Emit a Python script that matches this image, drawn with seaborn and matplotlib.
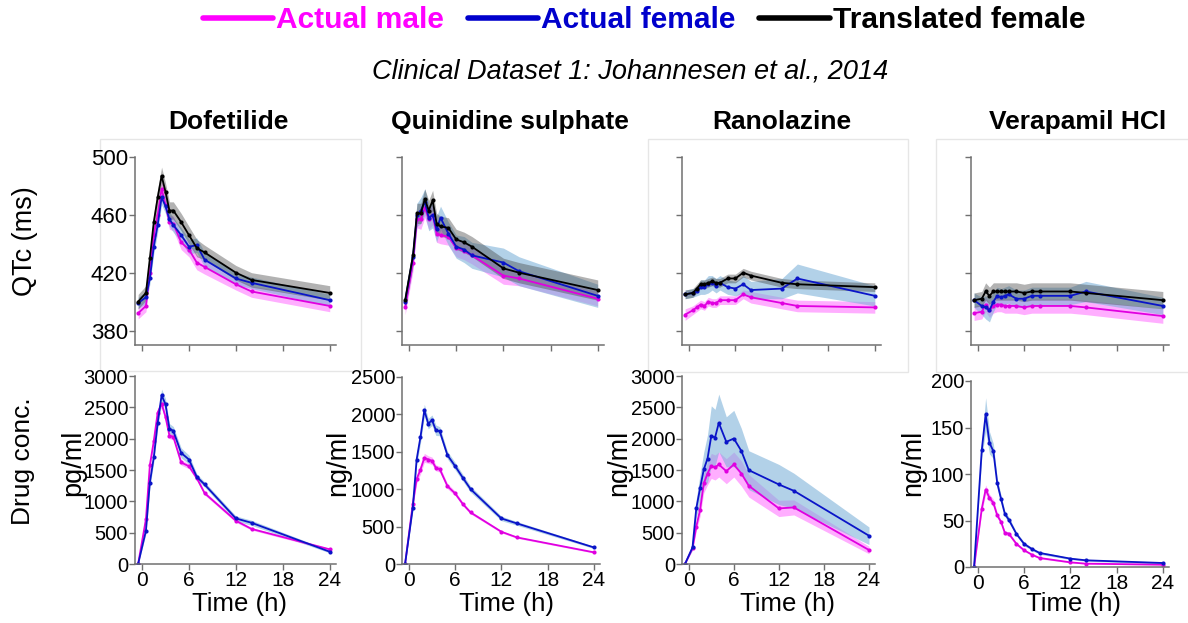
import pandas as pd
import seaborn as sns
import matplotlib.pyplot as plt
from matplotlib.lines import Line2D
from matplotlib.patches import Rectangle

sns.set_style("ticks")
plt.rcParams["font.family"] = ["Liberation Sans", "DejaVu Sans"]
plt.rcParams["text.color"] = "black"

# sampling times (h), pre-dose plotted at -0.5
times = [-0.5, 0.5, 1, 1.5, 2, 2.5, 3, 3.5, 4, 5, 6, 7, 8, 12, 14, 24]

drugs = ["Dofetilide", "Quinidine sulphate", "Ranolazine", "Verapamil HCl"]
conc_units = ["pg/ml", "ng/ml", "ng/ml", "ng/ml"]
series_names = ["Actual male", "Actual female", "Translated female"]

# QTc (ms): mean and band half-width, per drug
qtc_male = [
    [392, 397, 420, 446, 460, 478, 467, 455, 454, 441, 436, 427, 424, 412, 407, 397],
    [396, 427, 457, 457, 465, 457, 460, 447, 446, 445, 437, 435, 432, 418, 416, 402],
    [391, 394, 396, 398, 397, 400, 399, 399, 401, 401, 401, 405, 403, 399, 397, 396],
    [392, 393, 398, 394, 397, 398, 398, 397, 397, 397, 396, 397, 397, 397, 396, 390],
]
qtc_female = [
    [399, 403, 416, 438, 453, 472, 466, 457, 453, 446, 438, 439, 429, 416, 413, 401],
    [400, 431, 460, 463, 469, 458, 460, 450, 458, 447, 438, 436, 432, 427, 421, 404],
    [405, 406, 407, 410, 410, 412, 413, 411, 413, 410, 409, 412, 408, 409, 416, 404],
    [401, 397, 396, 394, 400, 404, 403, 404, 405, 402, 402, 404, 404, 404, 407, 397],
]
qtc_trans = [
    [400, 406, 430, 455, 472, 487, 476, 463, 463, 455, 446, 437, 434, 420, 415, 406],
    [401, 432, 461, 461, 471, 463, 470, 454, 452, 451, 443, 441, 438, 423, 420, 408],
    [405, 406, 409, 412, 412, 413, 414, 413, 413, 416, 416, 420, 418, 413, 412, 410],
    [401, 402, 407, 404, 407, 407, 407, 407, 407, 407, 406, 407, 407, 407, 406, 401],
]
qtc_male_err = [
    [4, 4, 4, 5, 5, 5, 5, 5, 5, 5, 5, 5, 5, 4, 4, 4],
    [5, 6, 6, 7, 7, 7, 7, 6, 6, 6, 6, 6, 6, 6, 5, 5],
    [4, 3, 3, 3, 3, 3, 3, 3, 3, 3, 3, 3, 4, 4, 4, 4],
    [5, 5, 5, 5, 5, 5, 5, 5, 5, 5, 5, 5, 5, 5, 5, 5],
]
qtc_female_err = [
    [4, 4, 4, 5, 5, 5, 5, 5, 5, 5, 5, 5, 5, 4, 4, 4],
    [6, 7, 8, 9, 9, 9, 9, 9, 8, 8, 8, 9, 9, 10, 10, 8],
    [3, 3, 3, 5, 5, 6, 5, 5, 5, 5, 5, 6, 6, 7, 10, 7],
    [5, 6, 8, 8, 7, 6, 6, 6, 6, 6, 6, 6, 6, 6, 7, 6],
]
qtc_trans_err = [
    [5, 5, 5, 6, 6, 6, 6, 6, 6, 6, 6, 6, 5, 5, 5, 5],
    [6, 6, 7, 7, 7, 7, 7, 7, 7, 7, 7, 7, 7, 7, 7, 7],
    [3, 3, 3, 3, 3, 3, 3, 3, 3, 3, 3, 3, 3, 3, 3, 3],
    [5, 5, 6, 6, 6, 6, 6, 6, 6, 6, 6, 6, 6, 6, 6, 6],
]

# drug concentration: mean and band half-width, per drug
conc_male = [
    [0, 717, 1577, 1960, 2416, 2560, 2347, 2050, 2030, 1620, 1560, 1370, 1130, 690, 560, 234],
    [0, 800, 1134, 1263, 1419, 1397, 1379, 1285, 1268, 1041, 943, 801, 689, 431, 356, 156],
    [0, 250, 595, 860, 1285, 1444, 1566, 1540, 1588, 1481, 1588, 1444, 1248, 887, 903, 223],
    [0, 62.8, 83.3, 74.3, 69, 55.6, 48.5, 36.6, 35.9, 24.8, 18, 13.3, 9.7, 5, 3.6, 2.5],
]
conc_female = [
    [0, 531, 1300, 1700, 2250, 2692, 2549, 2161, 2124, 1773, 1667, 1391, 1269, 727, 658, 196],
    [0, 752, 1397, 1699, 2055, 1877, 1922, 1788, 1775, 1455, 1308, 1152, 1001, 609, 543, 222],
    [0, 265, 887, 1205, 1508, 1683, 2044, 2018, 2251, 1949, 2002, 1805, 1497, 1269, 1168, 451],
    [0, 126, 164, 133.5, 124.6, 90.5, 73.2, 57, 51, 35.5, 24.8, 19.4, 15.1, 9, 7.2, 4.3],
]
conc_male_err = [
    [0, 40, 60, 60, 60, 60, 60, 50, 50, 40, 40, 35, 30, 25, 20, 15],
    [0, 40, 60, 60, 60, 50, 50, 40, 40, 35, 30, 25, 20, 15, 12, 10],
    [0, 30, 70, 100, 150, 180, 200, 200, 200, 200, 200, 200, 180, 130, 120, 60],
    [0, 4, 5, 4, 4, 3, 2, 2, 2, 1.5, 1, 1, 1, 0.5, 0.5, 0.5],
]
conc_female_err = [
    [0, 50, 70, 80, 90, 100, 90, 80, 70, 80, 70, 50, 40, 40, 40, 20],
    [0, 50, 70, 80, 80, 70, 70, 70, 60, 50, 50, 45, 40, 30, 25, 15],
    [0, 40, 150, 220, 280, 380, 480, 450, 460, 400, 450, 360, 310, 320, 280, 140],
    [0, 8, 18, 12, 8, 5, 4, 3, 3, 2, 2, 1.5, 1.5, 1, 1, 1],
]

qtc_ticks = [380, 420, 460, 500]
conc_ticks = [
    [0, 500, 1000, 1500, 2000, 2500, 3000],
    [0, 500, 1000, 1500, 2000, 2500],
    [0, 500, 1000, 1500, 2000, 2500, 3000],
    [0, 50, 100, 150, 200],
]
time_ticks = [0, 6, 12, 18, 24]

line_colors = ["#e000e0", "#0a14c8", "black"]
band_colors = ["#ff4dff", "#7fb3da", "#404040"]
band_alpha = [0.45, 0.6, 0.4]
text_colors = ["#ff00ff", "#0000cc", "black"]

W, H = 1188, 623
fig = plt.figure(figsize=(W / 100, H / 100), dpi=100)


def px_axes(x0, x1, y0, y1):
    return fig.add_axes([x0 / W, 1 - y1 / H, (x1 - x0) / W, (y1 - y0) / H])


# faint frames visible behind some of the top panels
for x0, x1, y0, y1 in [(100, 361, 139, 371), (648, 908, 139, 372), (936, 1190, 139, 372)]:
    fig.add_artist(Rectangle((x0 / W, 1 - y1 / H), (x1 - x0) / W, (y1 - y0) / H,
                             transform=fig.transFigure, fill=False,
                             ec="#e6e6e6", lw=1, zorder=0))

top_x = [(135, 336), (402, 604), (682, 881), (971, 1169)]
bot_x = [(135, 336), (402, 600), (682, 875), (971, 1169)]
bot_y = [(376, 564), (377, 564), (376, 564), (381, 567)]


def style_axis(ax):
    sns.despine(ax=ax)
    for s in ["left", "bottom"]:
        ax.spines[s].set_color("#707070")
        ax.spines[s].set_linewidth(1.1)
    ax.tick_params(colors="#707070", labelcolor="black", length=4, width=1, pad=1)
    ax.tick_params(axis="x", labelsize=15)
    ax.tick_params(axis="y", labelsize=14.5)
    ax.set_xlabel("")
    ax.set_ylabel("")


def draw(ax, means, errs, idx):
    for k in idx:
        lo = [m - e for m, e in zip(means[k], errs[k])]
        hi = [m + e for m, e in zip(means[k], errs[k])]
        ax.fill_between(times, lo, hi, color=band_colors[k], alpha=band_alpha[k], lw=0)
    for k in idx:
        df = pd.DataFrame({"time": times, "value": means[k]})
        sns.lineplot(data=df, x="time", y="value", ax=ax, color=line_colors[k],
                     lw=1.3, marker="o", markersize=3, markeredgewidth=0)


for i in range(4):
    # QTc row
    ax = px_axes(top_x[i][0], top_x[i][1], 157, 345)
    draw(ax, [qtc_male[i], qtc_female[i], qtc_trans[i]],
         [qtc_male_err[i], qtc_female_err[i], qtc_trans_err[i]], [0, 1, 2])
    ax.set_xlim(-0.9, 24.8)
    ax.set_ylim(370, 500)
    ax.set_yticks(qtc_ticks)
    ax.set_xticks(time_ticks)
    style_axis(ax)
    ax.tick_params(labelbottom=False, labelleft=(i == 0))
    ax.tick_params(axis="y", labelsize=16)

    # concentration row
    ax = px_axes(bot_x[i][0], bot_x[i][1], bot_y[i][0], bot_y[i][1])
    draw(ax, [conc_male[i], conc_female[i]], [conc_male_err[i], conc_female_err[i]], [0, 1])
    ax.set_xlim(-0.9, 24.8)
    ax.set_ylim(0, conc_ticks[i][-1])
    ax.set_yticks(conc_ticks[i])
    ax.set_xticks(time_ticks)
    style_axis(ax)

# titles and labels
title_x = [228, 510, 782, 1078]
for i in range(4):
    fig.text(title_x[i] / W, 1 - 122 / H, drugs[i], ha="center", va="center",
             fontsize=19, fontweight="bold")

time_x = [240, 507, 787, 1074]
for x in time_x:
    fig.text(x / W, 1 - 604 / H, "Time (h)", ha="center", va="center", fontsize=18.5)

unit_x = [73, 338, 619, 913]
for i in range(4):
    fig.text(unit_x[i] / W, 1 - 463 / H, conc_units[i], ha="center", va="center",
             fontsize=19.5, rotation=90)

fig.text(25 / W, 1 - 241 / H, "QTc (ms)", ha="center", va="center", fontsize=19.5, rotation=90)
fig.text(23 / W, 1 - 461 / H, "Drug conc.", ha="center", va="center", fontsize=19, rotation=90)

fig.text(630 / W, 1 - 72 / H, "Clinical Dataset 1: Johannesen et al., 2014",
         ha="center", va="center", fontsize=19.5, style="italic")

handles = [Line2D([], [], color=c, lw=4) for c in text_colors]
fig.legend(handles, series_names, loc="center", bbox_to_anchor=(644 / W, 1 - 20 / H),
           ncol=3, frameon=False, labelcolor=text_colors, handlelength=2.35,
           handletextpad=0.1, columnspacing=0.8,
           prop={"weight": "bold", "size": 21.5})

fig.savefig("out.png", dpi=100)
